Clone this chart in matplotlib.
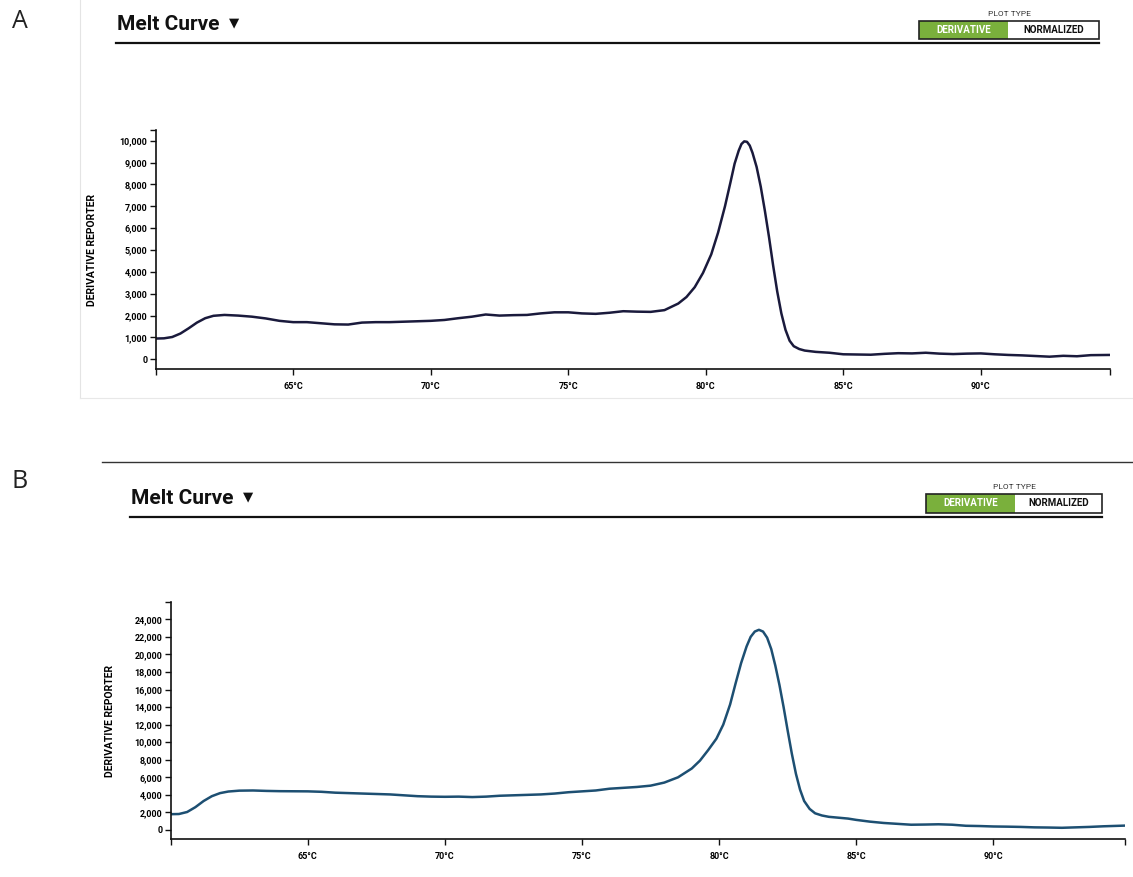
import matplotlib
matplotlib.use("Agg")
import matplotlib.pyplot as plt
from matplotlib.lines import Line2D
from matplotlib.patches import Rectangle
from matplotlib.ticker import FuncFormatter

# ---------------- data ----------------
temp_a = [60.0, 60.3, 60.6, 60.9, 61.2, 61.5, 61.8, 62.1, 62.5, 63.0, 63.5, 64.0,
          64.5, 65.0, 65.5, 66.0, 66.5, 67.0, 67.5, 68.0, 68.5, 69.0, 69.5, 70.0,
          70.5, 71.0, 71.5, 72.0, 72.5, 73.0, 73.5, 74.0, 74.5, 75.0, 75.5, 76.0,
          76.5, 77.0, 77.5, 78.0, 78.5, 79.0, 79.3, 79.6, 79.9, 80.2, 80.45, 80.7,
          80.9, 81.05, 81.2, 81.3, 81.4, 81.5, 81.6, 81.7, 81.85, 82.0, 82.15, 82.3,
          82.45, 82.6, 82.75, 82.9, 83.05, 83.2, 83.4, 83.6, 84.0, 84.5, 85.0, 85.5,
          86.0, 86.5, 87.0, 87.5, 88.0, 88.5, 89.0, 89.5, 90.0, 90.5, 91.0, 91.5,
          92.0, 92.5, 93.0, 93.5, 94.0, 94.7]
deriv_a = [950, 960, 1020, 1180, 1420, 1680, 1880, 1990, 2030, 2000, 1950, 1870,
           1760, 1700, 1700, 1650, 1600, 1590, 1680, 1700, 1700, 1720, 1740, 1760,
           1800, 1880, 1950, 2050, 2000, 2020, 2030, 2100, 2150, 2150, 2100, 2080,
           2130, 2200, 2180, 2170, 2250, 2550, 2850, 3300, 3950, 4800, 5800, 7000,
           8100, 8950, 9550, 9850, 9970, 9950, 9780, 9450, 8800, 7900, 6800, 5600,
           4300, 3100, 2100, 1350, 850, 600, 470, 400, 340, 300, 230, 220,
           210, 250, 280, 270, 300, 260, 240, 260, 270, 230, 200, 180,
           150, 120, 160, 140, 190, 200]

temp_b = [60.0, 60.3, 60.6, 60.9, 61.2, 61.5, 61.8, 62.1, 62.5, 63.0, 63.5, 64.0,
          65.0, 65.5, 66.0, 66.5, 67.0, 67.5, 68.0, 68.5, 69.0, 69.5, 70.0, 70.5,
          71.0, 71.5, 72.0, 72.5, 73.0, 73.5, 74.0, 74.5, 75.0, 75.5, 76.0, 76.5,
          77.0, 77.5, 78.0, 78.5, 79.0, 79.3, 79.6, 79.9, 80.15, 80.4, 80.6, 80.8,
          81.0, 81.15, 81.3, 81.45, 81.6, 81.75, 81.9, 82.05, 82.2, 82.35, 82.5, 82.65,
          82.8, 82.95, 83.1, 83.3, 83.5, 83.75, 84.0, 84.7, 85.0, 85.5, 86.0, 86.5,
          87.0, 87.5, 88.0, 88.5, 89.0, 89.5, 90.0, 90.5, 91.0, 91.5, 92.0, 92.5,
          93.0, 93.5, 94.0, 94.8]
deriv_b = [1800, 1820, 2050, 2600, 3300, 3850, 4200, 4380, 4480, 4500, 4450, 4420,
           4400, 4350, 4250, 4200, 4150, 4100, 4050, 3950, 3850, 3800, 3780, 3800,
           3750, 3800, 3900, 3950, 4000, 4050, 4150, 4300, 4400, 4500, 4700, 4800,
           4900, 5050, 5400, 6000, 7000, 7900, 9100, 10400, 12000, 14300, 16700, 19000,
           20900, 22000, 22600, 22800, 22600, 21900, 20600, 18700, 16500, 14000, 11300, 8700,
           6400, 4600, 3300, 2400, 1900, 1650, 1500, 1300, 1150, 950, 800, 700,
           600, 620, 650, 600, 480, 450, 400, 380, 350, 300, 280, 250,
           300, 350, 420, 500]

x_ticks = [65, 70, 75, 80, 85, 90]
x_tick_labels = ["65°C", "70°C", "75°C", "80°C", "85°C", "90°C"]
y_ticks_a = list(range(0, 10001, 1000))
y_ticks_b = list(range(0, 24001, 2000))

# ---------------- figure ----------------
W, H = 1133, 877
fig = plt.figure(figsize=(W / 100, H / 100), dpi=100)
fig.patch.set_facecolor("white")
FONT = ["Roboto", "DejaVu Sans"]


def fx(x):
    return x / W


def fy(y):
    return 1 - y / H


def hline(x0, x1, y, lw=1.5, color="black"):
    fig.add_artist(Line2D([fx(x0), fx(x1)], [fy(y), fy(y)], lw=lw, color=color,
                          transform=fig.transFigure))


def vline(x, y0, y1, lw=1.0, color="black"):
    fig.add_artist(Line2D([fx(x), fx(x)], [fy(y0), fy(y1)], lw=lw, color=color,
                          transform=fig.transFigure))


def header(panel_letter, letter_y, title_x, title_base_y, line_x0, line_x1, line_y,
           box_x0, box_xm, box_x1, box_y0, box_y1):
    fig.text(fx(20), fy(letter_y), panel_letter, fontsize=18, family=["Open Sans", "DejaVu Sans"],
             ha="center", va="center", color="#222222")
    fig.text(fx(title_x), fy(title_base_y), "Melt Curve", fontsize=15,
             fontweight="bold", family=FONT, ha="left", va="baseline", color="#111111")
    fig.text(fx(title_x + 117), fy(title_base_y - 7), "▼", fontsize=9.5,
             family=["DejaVu Sans"], ha="center", va="center", color="#111111")
    hline(line_x0, line_x1, line_y, lw=1.6, color="#111111")
    # plot type selector
    fig.text(fx((box_x0 + box_x1) / 2), fy(box_y0 - 7), "PLOT TYPE", fontsize=6,
             family=FONT, ha="center", va="center", color="#333333")
    fig.add_artist(Rectangle((fx(box_x0), fy(box_y1)), fx(box_xm - box_x0),
                             (box_y1 - box_y0) / H, transform=fig.transFigure,
                             facecolor="#7ab03c", edgecolor="none"))
    fig.add_artist(Rectangle((fx(box_x0), fy(box_y1)), fx(box_x1 - box_x0),
                             (box_y1 - box_y0) / H, transform=fig.transFigure,
                             facecolor="none", edgecolor="#222222", lw=1.2))
    yc = fy((box_y0 + box_y1) / 2)
    fig.text(fx((box_x0 + box_xm) / 2), yc, "DERIVATIVE", fontsize=7, fontweight="bold",
             family=FONT, ha="center", va="center", color="white")
    fig.text(fx((box_xm + box_x1) / 2), yc, "NORMALIZED", fontsize=7, fontweight="bold",
             family=FONT, ha="center", va="center", color="#111111")


def style_axes(ax, xlim, ylim, yticks, color, temps, vals, labelpad):
    ax.plot(temps, vals, color=color, lw=1.8, solid_capstyle="round",
            solid_joinstyle="round")
    ax.set_xlim(*xlim)
    ax.set_ylim(*ylim)
    for s in ["top", "right"]:
        ax.spines[s].set_visible(False)
    for s in ["left", "bottom"]:
        ax.spines[s].set_linewidth(1.2)
        ax.spines[s].set_color("#111111")
    ax.set_xticks(x_ticks)
    ax.set_xticklabels(x_tick_labels)
    ax.set_yticks(yticks)
    ax.yaxis.set_major_formatter(FuncFormatter(lambda v, p: f"{v:,.0f}"))
    ax.set_xticks([xlim[0], xlim[1]], minor=True)
    ax.set_yticks([ylim[1]], minor=True)
    ax.tick_params(axis="both", which="both", direction="out", length=4, width=1.0,
                   color="#111111")
    ax.tick_params(axis="x", which="major", labelsize=6.5, pad=5)
    ax.tick_params(axis="y", which="major", labelsize=6.5, pad=2)
    for lab in ax.get_xticklabels() + ax.get_yticklabels():
        lab.set_fontweight("bold")
        lab.set_family(FONT)
    ax.set_ylabel("DERIVATIVE REPORTER", fontsize=7.5, fontweight="bold", family=FONT,
                  labelpad=labelpad)
    ax.patch.set_alpha(0)


# ---------------- panel A ----------------
vline(80, 0, 398, lw=0.8, color="#e4e4e4")
hline(80, 1133, 398, lw=0.8, color="#e8e8e8")
header("A", 21, 117, 30, 116, 1099, 43, 919, 1008, 1099, 21, 39)
ax_a = fig.add_axes([fx(155.7), fy(369.3), fx(1110 - 155.7), (369.3 - 130) / H])
style_axes(ax_a, (60, 94.7), (-457, 10490), y_ticks_a, "#1a1a3c", temp_a, deriv_a, 16)

# ---------------- panel B ----------------
hline(102, 1133, 462, lw=1.0, color="#333333")
header("B", 481, 131, 504, 130, 1102, 517, 926, 1015, 1102, 494, 513)
ax_b = fig.add_axes([fx(170.7), fy(839.3), fx(1125 - 170.7), (839.3 - 601.7) / H])
style_axes(ax_b, (60, 94.8), (-1060, 26000), y_ticks_b, "#1d4f72", temp_b, deriv_b, 14)

fig.savefig("out.png", dpi=100, facecolor="white")
